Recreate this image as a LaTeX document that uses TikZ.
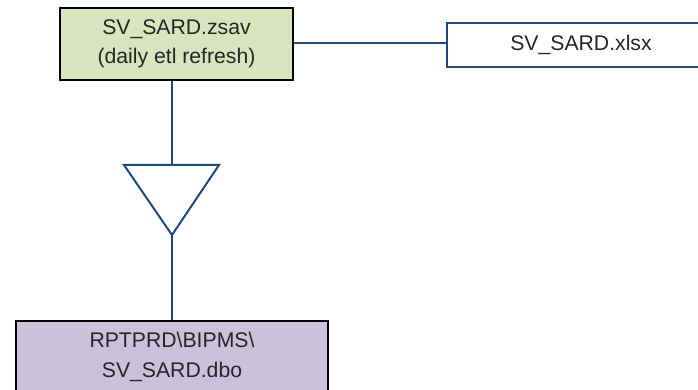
\documentclass[tikz,border=0pt]{standalone}
\usepackage{fontspec}
\setmainfont{Liberation Sans}
\usepackage{xcolor}
\usetikzlibrary{positioning}
\definecolor{linkblue}{HTML}{1F497D}
\definecolor{srcgreen}{HTML}{D7E4BD}
\definecolor{dbpurple}{HTML}{CCC1DA}

\begin{document}
\begin{tikzpicture}[
  x=0.5pt, y=-0.5pt,
  every node/.style={font=\fontsize{10.6}{14.6}\selectfont, text=black!85},
  source/.style={draw=black, line width=1.3pt, fill=srcgreen, align=center, minimum width=116.5pt, minimum height=36pt, inner sep=0pt},
  target/.style={draw=black, line width=1.3pt, fill=dbpurple, align=center, minimum width=156pt, minimum height=36pt, inner sep=0pt},
  export/.style={draw=linkblue, line width=1pt, fill=white, align=center, minimum width=134pt, minimum height=22pt, inner sep=0pt},
  link/.style={draw=linkblue, line width=1pt}
]
\useasboundingbox (0,0) rectangle (698,390);
\node[source] (zsav) at (176.5,44) {SV\_SARD.zsav\\(daily etl refresh)};
\node[export] (xlsx) at (581,45) {SV\_SARD.xlsx};
\node[target] (dbo) at (172,357) {RPTPRD\textbackslash BIPMS\textbackslash\\SV\_SARD.dbo};

% merge triangle
\coordinate (tritop) at (172,165);
\coordinate (triapex) at (172,235);
\draw[link, line join=miter] (124,165) -- (219,165) -- (triapex) -- cycle;

\draw[link] (zsav.east |- 0,43) -- (xlsx.west |- 0,43);
\draw[link] (zsav.south -| tritop) -- (tritop);
\draw[link] (triapex) -- (dbo.north -| triapex);
\end{tikzpicture}
\end{document}
